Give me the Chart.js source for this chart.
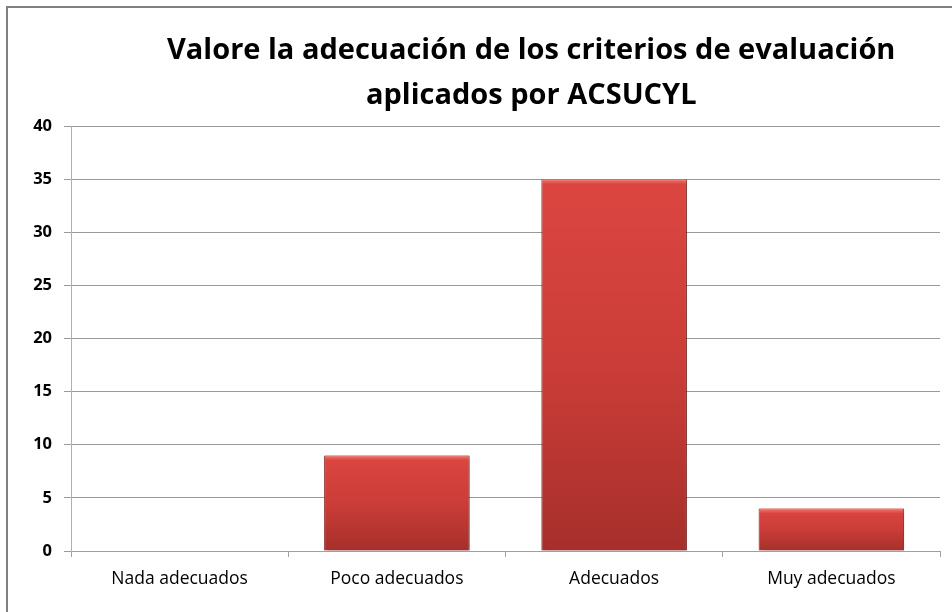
<!DOCTYPE html>
<html>
<head>
<meta charset="utf-8">
<title>Valore la adecuación de los criterios de evaluación</title>
<script src="https://cdn.jsdelivr.net/npm/chart.js@4/dist/chart.umd.min.js"></script>
<style>
  body { margin: 0; background: #fff; }
  #wrap { width: 952px; height: 612px; position: relative; }
</style>
</head>
<body>
<div id="wrap"><canvas id="chart"></canvas></div>
<script>
// Chart data
const titleLines = ['Valore la adecuación de los criterios de evaluación', 'aplicados por ACSUCYL'];
const categories = ['Nada adecuados', 'Poco adecuados', 'Adecuados', 'Muy adecuados'];
const values = [0, 9, 35, 4];
const yTicks = [0, 5, 10, 15, 20, 25, 30, 35, 40];

const FONT = '"Open Sans", "DejaVu Sans", sans-serif';

// Vertical gradient per bar, light at the top, dark at the base
function barFill(ctx) {
  const chart = ctx.chart;
  if (!chart.chartArea || ctx.type !== 'data') return '#c63c37';
  const y = chart.scales.y;
  const top = y.getPixelForValue(ctx.raw);
  const base = y.getPixelForValue(0);
  if (base - top < 1) return '#c63c37';
  const g = chart.ctx.createLinearGradient(0, top, 0, base);
  g.addColorStop(0, '#dc4641');
  g.addColorStop(0.5, '#cb3d38');
  g.addColorStop(1, '#a62f2b');
  return g;
}

// Frame + title drawn on the canvas
const decorPlugin = {
  id: 'decor',
  beforeDraw(chart) {
    const c = chart.ctx;
    c.save();
    c.strokeStyle = '#808080';
    c.lineWidth = 2;
    c.beginPath();
    c.moveTo(7, chart.height);
    c.lineTo(7, 7);
    c.lineTo(chart.width, 7);
    c.stroke();
    c.fillStyle = '#000';
    c.font = 'bold 29px ' + FONT;
    c.textAlign = 'center';
    c.textBaseline = 'middle';
    const cx = chart.width * 0.558;
    titleLines.forEach((line, i) => c.fillText(line, cx, 51 + i * 45));
    c.restore();
  }
};

// Soft drop shadow under the bars, bevel highlight on top
const shadowPlugin = {
  id: 'barShadow',
  beforeDatasetsDraw(chart) {
    const c = chart.ctx;
    c.save();
    c.shadowColor = 'rgba(0,0,0,0.35)';
    c.shadowBlur = 5;
    c.shadowOffsetX = 2;
    c.shadowOffsetY = 2;
  },
  afterDatasetsDraw(chart) {
    const c = chart.ctx;
    c.restore();
    c.save();
    chart.getDatasetMeta(0).data.forEach(bar => {
      const h = bar.base - bar.y;
      if (h < 4) return;
      const left = bar.x - bar.width / 2;
      const g = c.createLinearGradient(0, bar.y, 0, bar.y + 5);
      g.addColorStop(0, 'rgba(255,140,130,0.7)');
      g.addColorStop(1, 'rgba(255,140,130,0)');
      c.fillStyle = g;
      c.fillRect(left + 1, bar.y, bar.width - 2, 5);
    });
    c.restore();
  }
};

new Chart(document.getElementById('chart'), {
  type: 'bar',
  data: {
    labels: categories,
    datasets: [{
      data: values,
      backgroundColor: barFill,
      borderColor: '#9a2d29',
      borderWidth: 1,
      categoryPercentage: 1,
      barPercentage: 0.67
    }]
  },
  options: {
    responsive: true,
    maintainAspectRatio: false,
    animation: false,
    layout: { padding: { top: 126, right: 12, bottom: 10, left: 0 } },
    plugins: {
      legend: { display: false },
      tooltip: { enabled: false }
    },
    scales: {
      x: {
        grid: {
          offset: true,
          drawOnChartArea: false,
          drawTicks: true,
          tickLength: 6,
          color: '#a0a0a0'
        },
        border: { color: '#a0a0a0' },
        ticks: {
          color: '#000',
          padding: 12,
          font: { family: FONT, size: 17.5 }
        }
      },
      y: {
        min: 0,
        max: 40,
        afterBuildTicks(scale) {
          scale.ticks = yTicks.map(v => ({ value: v }));
        },
        afterFit(scale) { scale.width = 71; },
        grid: { color: '#9a9a9a', tickLength: 7 },
        border: { color: '#b0b0b0' },
        ticks: {
          color: '#000',
          padding: 12,
          font: { family: FONT, size: 16.5, weight: 'bold' }
        }
      }
    }
  },
  plugins: [decorPlugin, shadowPlugin]
});
</script>
</body>
</html>
